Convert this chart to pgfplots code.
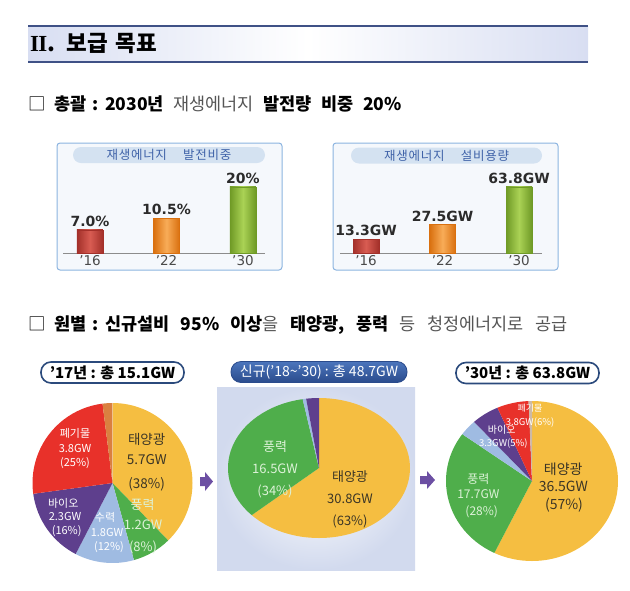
\documentclass[border=0pt]{standalone}
\usepackage{fontspec}
\usepackage{pgfplots}
\usepackage{pgfplotstable}
\pgfplotsset{compat=1.18}
\setmainfont{Noto Sans CJK KR}
\newfontfamily\dv{DejaVu Sans}
\newfontfamily\lserif{Liberation Serif}
\newcommand{\fs}[1]{\fontsize{#1}{#1}\selectfont}

\definecolor{hdrline}{HTML}{3F5186}
\definecolor{hdrfill}{HTML}{D8DEF2}
\definecolor{gtext}{HTML}{555555}
\definecolor{boxb}{HTML}{8CB4E0}
\definecolor{boxf}{HTML}{F5F8FC}
\definecolor{pillf}{HTML}{D4E2F1}
\definecolor{pillt}{HTML}{3F62A8}
\definecolor{rdD}{HTML}{A3302A}\definecolor{rdL}{HTML}{D85C52}
\definecolor{orD}{HTML}{D9700F}\definecolor{orL}{HTML}{F8AC58}
\definecolor{grD}{HTML}{6F9A26}\definecolor{grL}{HTML}{AAD255}
\definecolor{valc}{HTML}{2B2B2B}
\definecolor{tickc}{HTML}{4A4A4A}
\definecolor{cyel}{HTML}{F5BE41}
\definecolor{cgrn}{HTML}{4FAE4B}
\definecolor{clb}{HTML}{9FBBE2}
\definecolor{cpur}{HTML}{5E3F8D}
\definecolor{cred}{HTML}{E8312A}
\definecolor{corg}{HTML}{DA8040}
\definecolor{ctan}{HTML}{CDB9A6}
\definecolor{navy}{HTML}{2B4A7C}
\definecolor{pillT}{HTML}{4B75BC}
\definecolor{pillB}{HTML}{2A4B8C}
\definecolor{panel}{HTML}{D2DAEE}
\definecolor{arrowc}{HTML}{6C4FA3}
\definecolor{pdark}{HTML}{3B3526}
\definecolor{lgreen}{HTML}{DDF2D8}

% pie data: GW, clockwise from 12 o'clock
\pgfplotstableread{
v c
5.7 cyel
1.2 cgrn
1.8 clb
2.3 cpur
3.8 cred
0.3 corg
}\pieL
\pgfplotstableread{
v c
30.8 cyel
16.5 cgrn
0.3 clb
1.1 cpur
}\pieM
\pgfplotstableread{
v c
36.5 cyel
17.7 cgrn
2.1 clb
3.3 cpur
3.8 cred
0.4 ctan
}\pieR

\newcommand{\piechart}[4]{% table, total, rx, ry
  \gdef\pieA{90}%
  \pgfplotstableforeachcolumnelement{v}\of#1\as\pieV{%
    \pgfplotstablegetelem{\pgfplotstablerow}{c}\of#1%
    \pgfmathsetmacro\pieB{\pieA-\pieV/#2*360}%
    \edef\piecmd{\noexpand\fill[\pgfplotsretval] (axis cs:0,0) -- ++(\pieA:#3pt and #4pt) arc[start angle=\pieA, end angle=\pieB, x radius=#3pt, y radius=#4pt] -- cycle;}%
    \piecmd
    \global\let\pieA\pieB
  }%
}

\pgfplotsset{
  barax/.style={scale only axis, anchor=south west, width=202pt, height=80pt,
    ymin=0, axis y line=none, axis x line*=bottom,
    x axis line style={-, draw=black!45, line width=0.8pt},
    xtick={0,1,2}, xticklabels={’16,’22,’30}, major tick length=0pt,
    xticklabel style={font=\dv\fs{13.5}, text=tickc, inner sep=1pt, yshift=-1pt},
    clip=false},
  bar/.style={ybar, bar width=26pt, bar shift=0pt, draw=#1D, left color=#1D, right color=#1D, middle color=#1L},
  vlab/.style={every node near coord/.append style={font=\dv\bfseries\fs{14}, text=valc, anchor=south, inner sep=0pt, yshift=3pt}},
  pieax/.style={scale only axis, anchor=center, xmin=-1, xmax=1, ymin=-1, ymax=1, hide axis, clip=false}
}

\begin{document}
\begin{tikzpicture}[x=1pt, y=1pt]
\path[use as bounding box] (0,0) rectangle (630,-590);

% header band
\shade[left color=hdrfill, right color=hdrfill, middle color=white] (28,-26) rectangle (588,-62);
\draw[hdrline, line width=2pt] (28,-26) -- (588,-26);
\draw[hdrline, line width=2pt] (28,-62) -- (588,-62);
\node[anchor=base west, inner sep=0pt] at (30,-51) {{\lserif\bfseries\fs{23}I\kern-0.03em I}{\bfseries\fs{22.5}.\hspace{0.5em}보급\hspace{0.35em}목표}};

% line 1
\node[anchor=base west, inner sep=0pt] at (28,-110.5) {\fs{17.5}□\hspace{0.5em}\bfseries 총괄\hspace{0.35em}:\hspace{0.35em}2030년\hspace{0.55em}{\mdseries\color{gtext}재생에너지}\hspace{0.55em}발전량\hspace{0.55em}비중\hspace{0.55em}20\%};

% bar box 1
\draw[boxb, line width=1pt, fill=boxf, rounded corners=3pt] (57,-143) rectangle (282,-270);
\node[fill=pillf, rounded corners=8pt, minimum width=192pt, minimum height=16pt, inner sep=0pt, text=pillt, font=\fs{12.5}] at (169,-155) {\addfontfeatures{LetterSpace=6}재생에너지\hspace{1.3em}발전비중};
\begin{axis}[barax, at={(63pt,-253pt)}, xmin=-0.353, xmax=2.288, ymax=24.24]
\addplot[bar=rd, nodes near coords={7.0\%}, vlab] coordinates {(0,7.0)};
\addplot[bar=or, nodes near coords={10.5\%}, vlab] coordinates {(1,10.5)};
\addplot[bar=gr, nodes near coords={20\%}, vlab] coordinates {(2,20)};
\end{axis}

% bar box 2
\draw[boxb, line width=1pt, fill=boxf, rounded corners=3pt] (333,-143) rectangle (558,-270);
\node[fill=pillf, rounded corners=8pt, minimum width=191pt, minimum height=16pt, inner sep=0pt, text=pillt, font=\fs{12.5}] at (446.5,-155.5) {\addfontfeatures{LetterSpace=6}재생에너지\hspace{1.3em}설비용량};
\begin{axis}[barax, at={(340pt,-253pt)}, xmin=-0.34, xmax=2.3, ymax=77.3]
\addplot[bar=rd, nodes near coords={13.3GW}, vlab] coordinates {(0,13.3)};
\addplot[bar=or, nodes near coords={27.5GW}, vlab] coordinates {(1,27.5)};
\addplot[bar=gr, nodes near coords={63.8GW}, vlab] coordinates {(2,63.8)};
\end{axis}

% line 2
\node[anchor=base west, inner sep=0pt] at (28,-330) {\fs{17.5}□\hspace{0.5em}\bfseries 원별\hspace{0.35em}:\hspace{0.35em}신규설비\hspace{0.65em}95\%\hspace{0.65em}이상{\mdseries\color{gtext}을}\hspace{0.65em}태양광,\hspace{0.65em}풍력\hspace{0.65em}{\mdseries\color{gtext}등\hspace{0.65em}청정에너지로\hspace{0.65em}공급}};

% middle panel
\shade[inner color=white, outer color=panel] (217,-387) rectangle (415,-570);

% pills
\node[draw=navy, line width=1.6pt, fill=white, rounded corners=10pt, minimum width=143pt, minimum height=21pt, inner sep=0pt, font=\bfseries\fs{15}] at (112.5,-372.5) {’17년 : 총 15.1GW};
\node[draw=pillB, line width=0.8pt, top color=pillT, bottom color=pillB, rounded corners=10pt, minimum width=176pt, minimum height=21pt, inner sep=0pt, text=white, font=\fs{14}] at (319,-372) {신규(’18\textasciitilde’30) : 총 48.7GW};
\node[draw=navy, line width=1.6pt, fill=white, rounded corners=10pt, minimum width=143pt, minimum height=21pt, inner sep=0pt, font=\bfseries\fs{15}] at (527.5,-373) {’30년 : 총 63.8GW};

% pies
\begin{axis}[pieax, at={(112.5pt,-483pt)}, width=160pt, height=160pt]
\piechart{\pieL}{15.1}{80}{80}
\end{axis}
\begin{axis}[pieax, at={(319pt,-468pt)}, width=182pt, height=140pt]
\piechart{\pieM}{48.7}{91}{70}
\end{axis}
\begin{axis}[pieax, at={(532pt,-481pt)}, width=172pt, height=160pt]
\piechart{\pieR}{63.8}{86}{80}
\end{axis}

% arrows
\fill[arrowc] (200,-477) -- (205,-477) -- (205,-472) -- (213,-481.5) -- (205,-491) -- (205,-486) -- (200,-486) -- cycle;
\fill[arrowc] (420,-476) -- (427,-476) -- (427,-471) -- (435,-480) -- (427,-489) -- (427,-484) -- (420,-484) -- cycle;

% pie labels
\begin{scope}[every node/.style={inner sep=0pt, align=center}]
\node[text=pdark, font=\fs{13.5}] at (146.7,-439) {태양광};
\node[text=pdark, font=\fs{13.5}] at (146.7,-460) {5.7GW};
\node[text=pdark, font=\fs{13.5}] at (146.7,-484) {(38\%)};
\node[text=white, font=\fs{11}] at (75,-433) {폐기물};
\node[text=white, font=\fs{11}] at (75,-448) {3.8GW};
\node[text=white, font=\fs{11}] at (75,-463) {(25\%)};
\node[text=white, font=\fs{11}] at (63.3,-503) {바이오};
\node[text=white, font=\fs{11}] at (65,-516) {2.3GW};
\node[text=white, font=\fs{11}] at (66.7,-530.7) {(16\%)};
\node[text=white, font=\fs{11}] at (105,-517) {수력};
\node[text=white, font=\fs{11}] at (107,-532) {1.8GW};
\node[text=white, font=\fs{11}] at (109,-547) {(12\%)};
\node[text=lgreen, font=\fs{13}] at (142.7,-505) {풍력};
\node[text=lgreen, font=\fs{13}] at (143,-525) {1.2GW};
\node[text=lgreen, font=\fs{13}] at (143,-547) {(8\%)};
% middle
\node[text=lgreen, font=\fs{13}] at (275,-446.7) {풍력};
\node[text=lgreen, font=\fs{13}] at (275,-468.3) {16.5GW};
\node[text=lgreen, font=\fs{13}] at (275,-491.7) {(34\%)};
\node[text=pdark, font=\fs{13}] at (350,-476.7) {태양광};
\node[text=pdark, font=\fs{13}] at (350,-498.3) {30.8GW};
\node[text=pdark, font=\fs{13}] at (350,-521.7) {(63\%)};
% right
\node[text=white, font=\fs{9}] at (530,-408.3) {폐기물};
\node[text=white, font=\fs{9.5}] at (530,-422.7) {3.8GW(6\%)};
\node[text=white, font=\fs{10}] at (501.7,-430) {바이오};
\node[text=white, font=\fs{9.5}] at (503.3,-444) {3.3GW(5\%)};
\node[text=lgreen, font=\fs{12}] at (478.3,-479) {풍력};
\node[text=lgreen, font=\fs{12}] at (478.3,-494) {17.7GW};
\node[text=lgreen, font=\fs{12}] at (481.7,-511.7) {(28\%)};
\node[text=pdark, font=\fs{14}] at (563.3,-469.3) {태양광};
\node[text=pdark, font=\fs{14}] at (563.3,-486.7) {36.5GW};
\node[text=pdark, font=\fs{14}] at (564,-505) {(57\%)};
\end{scope}
\end{tikzpicture}
\end{document}
